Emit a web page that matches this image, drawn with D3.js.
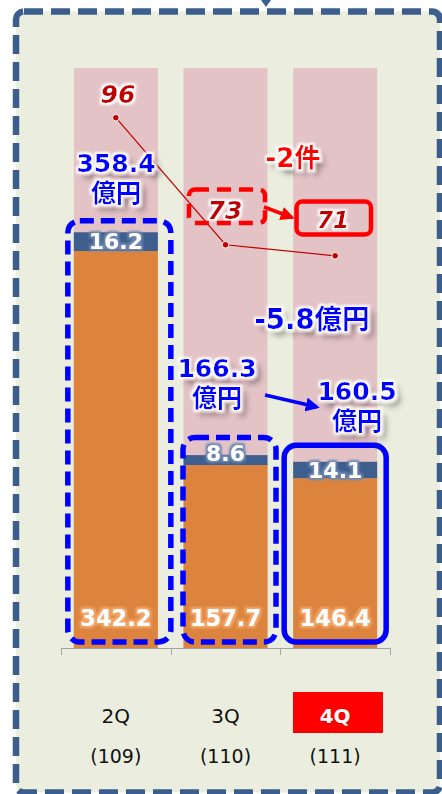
<!DOCTYPE html>
<html><head><meta charset="utf-8">
<script src="https://cdn.jsdelivr.net/npm/d3@7"></script>
<style>html,body{margin:0;padding:0;background:#fff;}svg{display:block;}</style>
</head><body>
<script>
// ---- data ----
const categories = ["2Q", "3Q", "4Q"];
const periods = ["(109)", "(110)", "(111)"];
const baseValues = [342.2, 157.7, 146.4];
const topValues = [16.2, 8.6, 14.1];
const totals = [358.4, 166.3, 160.5];
const counts = [96, 73, 71];
const bgMax = [500, 500, 500];
const diffAmount = "-5.8億円";
const diffCount = "-2件";

const W = 442, H = 794;
const svg = d3.select("body").append("svg").attr("width", W).attr("height", H);
const FONT = "'DejaVu Sans','Noto Sans CJK JP',sans-serif";

// ---- filters ----
const defs = svg.append("defs");
function glowShadow(id, glowColor, shadow) {
  const f = defs.append("filter").attr("id", id).attr("x", "-40%").attr("y", "-40%").attr("width", "180%").attr("height", "200%");
  const parts = [];
  if (shadow) {
    f.append("feGaussianBlur").attr("in", "SourceAlpha").attr("stdDeviation", 3).attr("result", "sb");
    f.append("feOffset").attr("in", "sb").attr("dx", 5).attr("dy", 6).attr("result", "so");
    f.append("feFlood").attr("flood-color", "#000").attr("flood-opacity", 0.5).attr("result", "sf");
    f.append("feComposite").attr("in", "sf").attr("in2", "so").attr("operator", "in").attr("result", "shadow");
    parts.push("shadow");
  }
  f.append("feMorphology").attr("in", "SourceAlpha").attr("operator", "dilate").attr("radius", 1.6).attr("result", "d");
  f.append("feGaussianBlur").attr("in", "d").attr("stdDeviation", 1.3).attr("result", "db");
  f.append("feFlood").attr("flood-color", glowColor).attr("result", "gf");
  f.append("feComposite").attr("in", "gf").attr("in2", "db").attr("operator", "in").attr("result", "glow");
  parts.push("glow");
  const m = f.append("feMerge");
  parts.forEach(p => m.append("feMergeNode").attr("in", p));
  m.append("feMergeNode").attr("in", "SourceGraphic");
}
glowShadow("gs", "#ffffff", true);
glowShadow("gw", "#ffffff", false);
glowShadow("go", "#f4a86a", false);
glowShadow("gn", "#6b86b0", false);

function arrowMarker(id, color) {
  defs.append("marker").attr("id", id).attr("viewBox", "0 0 10 10").attr("refX", 8).attr("refY", 5)
    .attr("markerWidth", 4).attr("markerHeight", 4).attr("orient", "auto-start-reverse")
    .append("path").attr("d", "M0,0 L10,5 L0,10 z").attr("fill", color);
}
arrowMarker("arR", "#ff0000");
arrowMarker("arB", "#0000ff");

// ---- frame ----
svg.append("rect").attr("x", 16).attr("y", 11.5).attr("width", 424).attr("height", 781)
  .attr("rx", 8).attr("fill", "#ebeedf").attr("stroke", "#3b5e8c").attr("stroke-width", 6.5)
  .attr("stroke-dasharray", "19,8");
svg.append("path").attr("d", "M261,0 L271,0 L266,7 Z").attr("fill", "#3b5e8c");

// ---- scales ----
const x = d3.scaleBand().domain(categories).range([61, 390]).padding(0);
const bw = x.bandwidth() * 0.766;
const bx = c => x(c) + (x.bandwidth() - bw) / 2;
const cx = c => x(c) + x.bandwidth() / 2;
const y = d3.scaleLinear().domain([0, 500]).range([648, 68]);
const y2 = d3.scaleLinear().domain([0, 105]).range([648, 68]);

const rows = categories.map((c, i) => ({c, base: baseValues[i], top: topValues[i], total: totals[i], count: counts[i], bg: bgMax[i], period: periods[i]}));

// background bars
svg.append("g").selectAll("rect").data(rows).join("rect")
  .attr("x", d => bx(d.c)).attr("width", bw)
  .attr("y", d => y(d.bg)).attr("height", d => y(0) - y(d.bg)).attr("fill", "#e3c3c6");
// base bars
svg.append("g").selectAll("rect").data(rows).join("rect")
  .attr("x", d => bx(d.c)).attr("width", bw)
  .attr("y", d => y(d.base)).attr("height", d => y(0) - y(d.base)).attr("fill", "#dc843e");
// top segments
svg.append("g").selectAll("rect").data(rows).join("rect")
  .attr("x", d => bx(d.c)).attr("width", bw)
  .attr("y", d => y(d.base + d.top)).attr("height", d => y(d.base) - y(d.base + d.top)).attr("fill", "#3e5e8d");

// axis
const ax = svg.append("g").attr("stroke", "#a6a6a6").attr("stroke-width", 1);
ax.append("line").attr("x1", x.range()[0]).attr("x2", x.range()[1]).attr("y1", y(0) + 0.5).attr("y2", y(0) + 0.5);
const edges = categories.map(c => x(c)).concat([x.range()[1]]);
ax.selectAll("line.t").data(edges).join("line").attr("class", "t")
  .attr("x1", d => Math.round(d) + 0.5).attr("x2", d => Math.round(d) + 0.5).attr("y1", y(0)).attr("y2", y(0) + 7);

// count line
const line = d3.line().x(d => cx(d.c)).y(d => y2(d.count));
svg.append("path").datum(rows).attr("d", line).attr("fill", "none").attr("stroke", "#c00000").attr("stroke-width", 1.2);
svg.append("g").selectAll("circle").data(rows).join("circle")
  .attr("cx", d => cx(d.c)).attr("cy", d => y2(d.count)).attr("r", 3.3)
  .attr("fill", "#c00000").attr("stroke", "#fff").attr("stroke-width", 1);

// blue highlight boxes
const boxes = [
  {i: 0, l: -6, r: 13, t: -11.5, dash: "14,7"},
  {i: 1, l: -0.5, r: 8.5, t: -17.5, dash: "14,7"},
  {i: 2, l: -9, r: 9, t: -16.5, dash: null}
];
svg.append("g").selectAll("rect").data(boxes).join("rect")
  .attr("x", b => bx(categories[b.i]) + b.l)
  .attr("width", b => bw - b.l + b.r)
  .attr("y", b => y(totals[b.i]) + b.t)
  .attr("height", b => 642 - (y(totals[b.i]) + b.t))
  .attr("rx", 12).attr("fill", "none").attr("stroke", "#0000ff").attr("stroke-width", 5.5)
  .attr("stroke-dasharray", b => b.dash);

// value labels inside bars
svg.append("g").selectAll("text").data(rows).join("text")
  .attr("x", d => cx(d.c)).attr("y", 626)
  .attr("text-anchor", "middle").attr("font-family", FONT).attr("font-weight", "bold").attr("font-size", 22.5)
  .attr("fill", "#fff").attr("filter", "url(#go)").text(d => d.base.toFixed(1));
const topLabelY = [249, 461, 478];
svg.append("g").selectAll("text").data(rows).join("text")
  .attr("x", d => cx(d.c)).attr("y", (d, i) => topLabelY[i])
  .attr("text-anchor", "middle").attr("font-family", FONT).attr("font-weight", "bold").attr("font-size", 22)
  .attr("fill", "#fff").attr("filter", "url(#gn)").text(d => d.top.toFixed(1));

// total labels
const totalPos = [{x: 116, y: 172}, {x: 217, y: 377}, {x: 357, y: 400}];
rows.forEach((d, i) => {
  const t = svg.append("text").attr("x", totalPos[i].x).attr("y", totalPos[i].y)
    .attr("text-anchor", "middle").attr("font-family", FONT).attr("font-weight", "bold").attr("font-size", 25)
    .attr("fill", "#0000ff").attr("filter", "url(#gs)");
  t.append("tspan").attr("x", totalPos[i].x).text(d.total.toFixed(1));
  t.append("tspan").attr("x", totalPos[i].x).attr("dy", 30).text("億円");
});

// count labels
const countPos = [{x: 118, y: 103, s: 25}, {x: 225, y: 219, s: 25}, {x: 333, y: 228, s: 23}];
svg.append("g").selectAll("text").data(rows).join("text")
  .attr("x", (d, i) => countPos[i].x).attr("y", (d, i) => countPos[i].y)
  .attr("text-anchor", "middle").attr("font-family", FONT).attr("font-weight", "bold").attr("font-style", "italic")
  .attr("font-size", (d, i) => countPos[i].s).attr("fill", "#c00000").attr("filter", "url(#gw)").text(d => d.count);

// red count boxes and arrow
svg.append("rect").attr("x", 189).attr("y", 189.5).attr("width", 76).attr("height", 33.5).attr("rx", 6)
  .attr("fill", "none").attr("stroke", "#ff0000").attr("stroke-width", 4.5).attr("stroke-dasharray", "14,8");
svg.append("rect").attr("x", 296.5).attr("y", 201.5).attr("width", 74.5).attr("height", 33).attr("rx", 6)
  .attr("fill", "none").attr("stroke", "#ff0000").attr("stroke-width", 4.5);
svg.append("line").attr("x1", 264).attr("y1", 207).attr("x2", 292).attr("y2", 217.5)
  .attr("stroke", "#ff0000").attr("stroke-width", 3.5).attr("marker-end", "url(#arR)");

svg.append("text").attr("x", 293).attr("y", 167).attr("text-anchor", "middle")
  .attr("font-family", FONT).attr("font-weight", "bold").attr("font-size", 26)
  .attr("fill", "#ff0000").attr("filter", "url(#gs)").text(diffCount);

// blue diff text and arrow
svg.append("text").attr("x", 312).attr("y", 329).attr("text-anchor", "middle")
  .attr("font-family", FONT).attr("font-weight", "bold").attr("font-size", 27.5)
  .attr("fill", "#0000ff").attr("filter", "url(#gs)").text(diffAmount);
svg.append("line").attr("x1", 265).attr("y1", 395).attr("x2", 317).attr("y2", 407)
  .attr("stroke", "#0000ff").attr("stroke-width", 3.5).attr("marker-end", "url(#arB)");

// category labels
const lab = svg.append("g");
lab.append("rect").attr("x", 293).attr("y", 692).attr("width", 90).attr("height", 41).attr("fill", "#ff0000");
lab.selectAll("text.c").data(rows).join("text").attr("class", "c")
  .attr("x", d => cx(d.c)).attr("y", 723).attr("text-anchor", "middle")
  .attr("font-family", FONT).attr("font-size", 20)
  .attr("font-weight", (d, i) => i === 2 ? "bold" : "normal")
  .attr("fill", (d, i) => i === 2 ? "#fff" : "#111").text(d => d.c);
lab.selectAll("text.p").data(rows).join("text").attr("class", "p")
  .attr("x", d => cx(d.c)).attr("y", 763).attr("text-anchor", "middle")
  .attr("font-family", FONT).attr("font-size", 19).attr("fill", "#111").text(d => d.period);
</script>
</body></html>
